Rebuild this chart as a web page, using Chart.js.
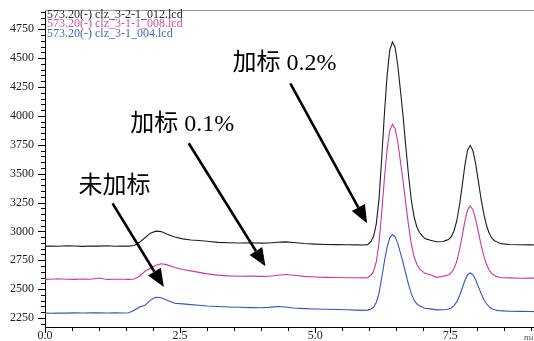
<!DOCTYPE html>
<html>
<head>
<meta charset="utf-8">
<script src="https://cdn.jsdelivr.net/npm/chart.js@4/dist/chart.umd.min.js"></script>
<style>
  html, body { margin: 0; padding: 0; background: #fff; }
  canvas { display: block; }
</style>
</head>
<body>
<canvas id="c" width="534" height="341"></canvas>
<script>
// Retention time (min)
const timeMin = [
  0, 0.1, 0.25, 0.4, 0.55, 0.7, 0.85, 1.0, 1.15, 1.3, 1.45, 1.55, 1.65, 1.75, 1.85, 1.95, 2.05, 2.15, 2.25, 2.4,
  2.55, 2.7, 2.85, 3.0, 3.2, 3.4, 3.6, 3.8, 4.0, 4.15, 4.3, 4.45, 4.6, 4.8, 5.0, 5.2, 5.4, 5.6, 5.75, 5.9, 5.97,
  6.03, 6.08, 6.13, 6.18, 6.23, 6.28, 6.33, 6.38, 6.43, 6.48, 6.53, 6.58, 6.63, 6.68, 6.73, 6.78, 6.83, 6.88, 6.93, 6.98, 7.03, 7.08, 7.13,
  7.25,
  7.37, 7.42, 7.47, 7.52, 7.57, 7.62, 7.67, 7.72, 7.77, 7.82, 7.87, 7.92, 7.97, 8.02, 8.07, 8.12, 8.17, 8.22, 8.27, 8.32, 8.37, 8.42, 8.47,
  8.6, 8.8, 9.0, 9.05
];

// m/z 573.20(-) intensity, spiked 0.2%
const trace012 = [
  2872, 2874, 2871, 2875, 2873, 2870, 2874, 2872, 2876, 2871, 2873, 2872, 2878, 2905, 2945, 2985, 3002, 2998, 2978, 2952,
  2935, 2926, 2921, 2915, 2905, 2901, 2899, 2902, 2898, 2900, 2906, 2909, 2904, 2895, 2890, 2887, 2885, 2884, 2883, 2882, 2885,
  2911, 2955, 3061, 3271, 3622, 4008, 4342, 4570, 4640, 4592, 4434, 4211, 3983, 3720, 3477, 3269, 3128, 3040, 2990, 2963, 2938, 2931, 2923,
  2910,
  2913, 2922, 2930, 2955, 3006, 3090, 3224, 3392, 3569, 3703, 3745, 3698, 3587, 3435, 3281, 3154, 3053, 2984, 2941, 2919, 2907, 2897, 2892,
  2887, 2884, 2883, 2882
];

// spiked 0.1%
const trace008 = [
  2584, 2586, 2590, 2585, 2584, 2587, 2585, 2596, 2584, 2586, 2585, 2584, 2588, 2612, 2655, 2680, 2706, 2720, 2712, 2688,
  2670, 2658, 2645, 2632, 2621, 2615, 2612, 2613, 2610, 2612, 2620, 2626, 2620, 2610, 2605, 2602, 2600, 2599, 2598, 2597, 2599,
  2620, 2653, 2733, 2892, 3157, 3449, 3701, 3874, 3927, 3889, 3771, 3599, 3428, 3230, 3045, 2887, 2782, 2716, 2676, 2656, 2637, 2631, 2624,
  2602,
  2611, 2617, 2623, 2642, 2678, 2739, 2837, 2959, 3087, 3185, 3220, 3187, 3106, 2995, 2883, 2790, 2715, 2665, 2634, 2618, 2608, 2601, 2598,
  2597, 2594, 2596, 2595
];

// unspiked
const trace004 = [
  2292, 2291, 2293, 2292, 2294, 2293, 2295, 2294, 2293, 2294, 2293, 2295, 2318, 2345, 2360, 2405, 2430, 2425, 2405, 2378,
  2372, 2366, 2360, 2354, 2349, 2345, 2343, 2340, 2339, 2342, 2350, 2345, 2336, 2331, 2328, 2326, 2324, 2321, 2318, 2316, 2318,
  2327, 2343, 2383, 2461, 2592, 2736, 2861, 2946, 2972, 2953, 2894, 2810, 2725, 2628, 2536, 2459, 2406, 2373, 2355, 2345, 2335, 2332, 2329,
  2320,
  2321, 2324, 2328, 2337, 2357, 2389, 2441, 2505, 2573, 2625, 2640, 2624, 2581, 2522, 2463, 2413, 2373, 2348, 2330, 2322, 2316, 2313, 2312,
  2309, 2307, 2306, 2305
];

const traceNames = [
  '573.20(-) clz_3-2-1_012.lcd',
  '573.20(-) clz_3-1-1_008.lcd',
  '573.20(-) clz_3-1_004.lcd'
];

// Labelled axis values
const xTickValues = [0, 2.5, 5.0, 7.5];
const yTickValues = [2250, 2500, 2750, 3000, 3250, 3500, 3750, 4000, 4250, 4500, 4750];

// Callouts, placed in data units (minutes, intensity)
const callouts = [
  { text: '加标 0.2%', at: [3.47, 4455], from: [4.54, 4282], to: [5.96, 3070] },
  { text: '加标 0.1%', at: [1.58, 3927], from: [2.66, 3763], to: [4.08, 2698] },
  { text: '未加标',    at: [0.62, 3390], from: [1.25, 3243], to: [2.20, 2518] }
];

const toPoints = vals => timeMin.map((t, i) => ({ x: t, y: vals[i] }));

const serif = '"Liberation Serif", "Times New Roman", serif';

const chromPlugin = {
  id: 'chromDecor',
  afterDraw(chart) {
    const { ctx, chartArea: a, scales: { x, y } } = chart;
    ctx.save();
    ctx.strokeStyle = '#000';
    ctx.lineWidth = 1;

    // y tick marks: every 50, longer at labelled values
    for (let v = Math.ceil(y.min / 50) * 50; v <= y.max; v += 50) {
      const py = Math.round(y.getPixelForValue(v)) + 0.5;
      const len = v % 250 === 0 ? 7 : 4;
      ctx.beginPath();
      ctx.moveTo(a.left - len, py);
      ctx.lineTo(a.left, py);
      ctx.stroke();
    }
    // x tick marks: every 0.5 min
    for (let v = 0; v <= x.max; v += 0.5) {
      const px = Math.round(x.getPixelForValue(v)) + 0.5;
      const len = v % 2.5 === 0 ? 6 : 4;
      ctx.beginPath();
      ctx.moveTo(px, a.bottom);
      ctx.lineTo(px, a.bottom + len);
      ctx.stroke();
    }

    // top frame line
    ctx.strokeStyle = '#9a9a9a';
    ctx.beginPath();
    ctx.moveTo(a.left, a.top + 0.5);
    ctx.lineTo(a.right, a.top + 0.5);
    ctx.stroke();

    // trace names in their line colours
    ctx.font = '12px ' + serif;
    ctx.textBaseline = 'middle';
    ctx.textAlign = 'left';
    chart.data.datasets.slice().reverse().forEach((ds, i) => {
      ctx.fillStyle = ds.nameColor;
      ctx.fillText(ds.label, a.left + 2, a.top + 4.5 + i * 9.7);
    });

    // time unit at the axis end
    ctx.font = '9px ' + serif;
    ctx.fillStyle = '#555';
    ctx.fillText('min', a.right - 10, a.bottom + 11);

    // callouts with arrows
    ctx.fillStyle = '#000';
    ctx.strokeStyle = '#000';
    ctx.font = '24px ' + serif + ', "Noto Sans CJK SC"';
    ctx.textBaseline = 'middle';
    callouts.forEach(c => {
      ctx.fillText(c.text, x.getPixelForValue(c.at[0]), y.getPixelForValue(c.at[1]));
      const x0 = x.getPixelForValue(c.from[0]), y0 = y.getPixelForValue(c.from[1]);
      const x1 = x.getPixelForValue(c.to[0]),   y1 = y.getPixelForValue(c.to[1]);
      const ang = Math.atan2(y1 - y0, x1 - x0);
      const headLen = 18, headHalf = 7.5;
      const bx = x1 - headLen * Math.cos(ang), by = y1 - headLen * Math.sin(ang);
      ctx.lineWidth = 2.6;
      ctx.beginPath();
      ctx.moveTo(x0, y0);
      ctx.lineTo(bx, by);
      ctx.stroke();
      ctx.beginPath();
      ctx.moveTo(x1, y1);
      ctx.lineTo(bx + headHalf * Math.sin(ang), by - headHalf * Math.cos(ang));
      ctx.lineTo(bx - headHalf * Math.sin(ang), by + headHalf * Math.cos(ang));
      ctx.closePath();
      ctx.fill();
    });
    ctx.restore();
  }
};

new Chart(document.getElementById('c'), {
  type: 'line',
  data: {
    datasets: [
      { label: traceNames[2], data: toPoints(trace004), borderColor: '#3653bb', nameColor: '#4a66c4' },
      { label: traceNames[1], data: toPoints(trace008), borderColor: '#c8399f', nameColor: '#d24fae' },
      { label: traceNames[0], data: toPoints(trace012), borderColor: '#1c1c1c', nameColor: '#2a2a2a' }
    ].map(d => Object.assign(d, { borderWidth: 1.1, pointRadius: 0, tension: 0, fill: false }))
  },
  options: {
    responsive: false,
    animation: false,
    devicePixelRatio: 1,
    layout: { padding: { top: 10, left: 0, right: 0, bottom: 0 } },
    plugins: { legend: { display: false }, tooltip: { enabled: false } },
    scales: {
      x: {
        type: 'linear',
        min: 0,
        max: 9.05,
        afterFit: s => { s.height = 14; s.paddingLeft = 0; s.paddingRight = 0; },
        afterBuildTicks: s => { s.ticks = xTickValues.map(v => ({ value: v })); },
        grid: { display: true, drawOnChartArea: false, drawTicks: false },
        border: { display: true, color: '#000', width: 1 },
        ticks: {
          autoSkip: false,
          maxRotation: 0,
          padding: 2,
          color: '#222',
          font: { family: serif, size: 12 },
          callback: v => Number(v).toFixed(1)
        }
      },
      y: {
        type: 'linear',
        min: 2172,
        max: 4917,
        afterFit: s => { s.width = 45; s.paddingTop = 0; s.paddingBottom = 0; },
        afterBuildTicks: s => { s.ticks = yTickValues.map(v => ({ value: v })); },
        grid: { display: true, drawOnChartArea: false, drawTicks: false },
        border: { display: true, color: '#000', width: 1 },
        ticks: {
          autoSkip: false,
          padding: 11,
          color: '#222',
          font: { family: serif, size: 12 },
          callback: v => String(v)
        }
      }
    }
  },
  plugins: [chromPlugin]
});
</script>
</body>
</html>
